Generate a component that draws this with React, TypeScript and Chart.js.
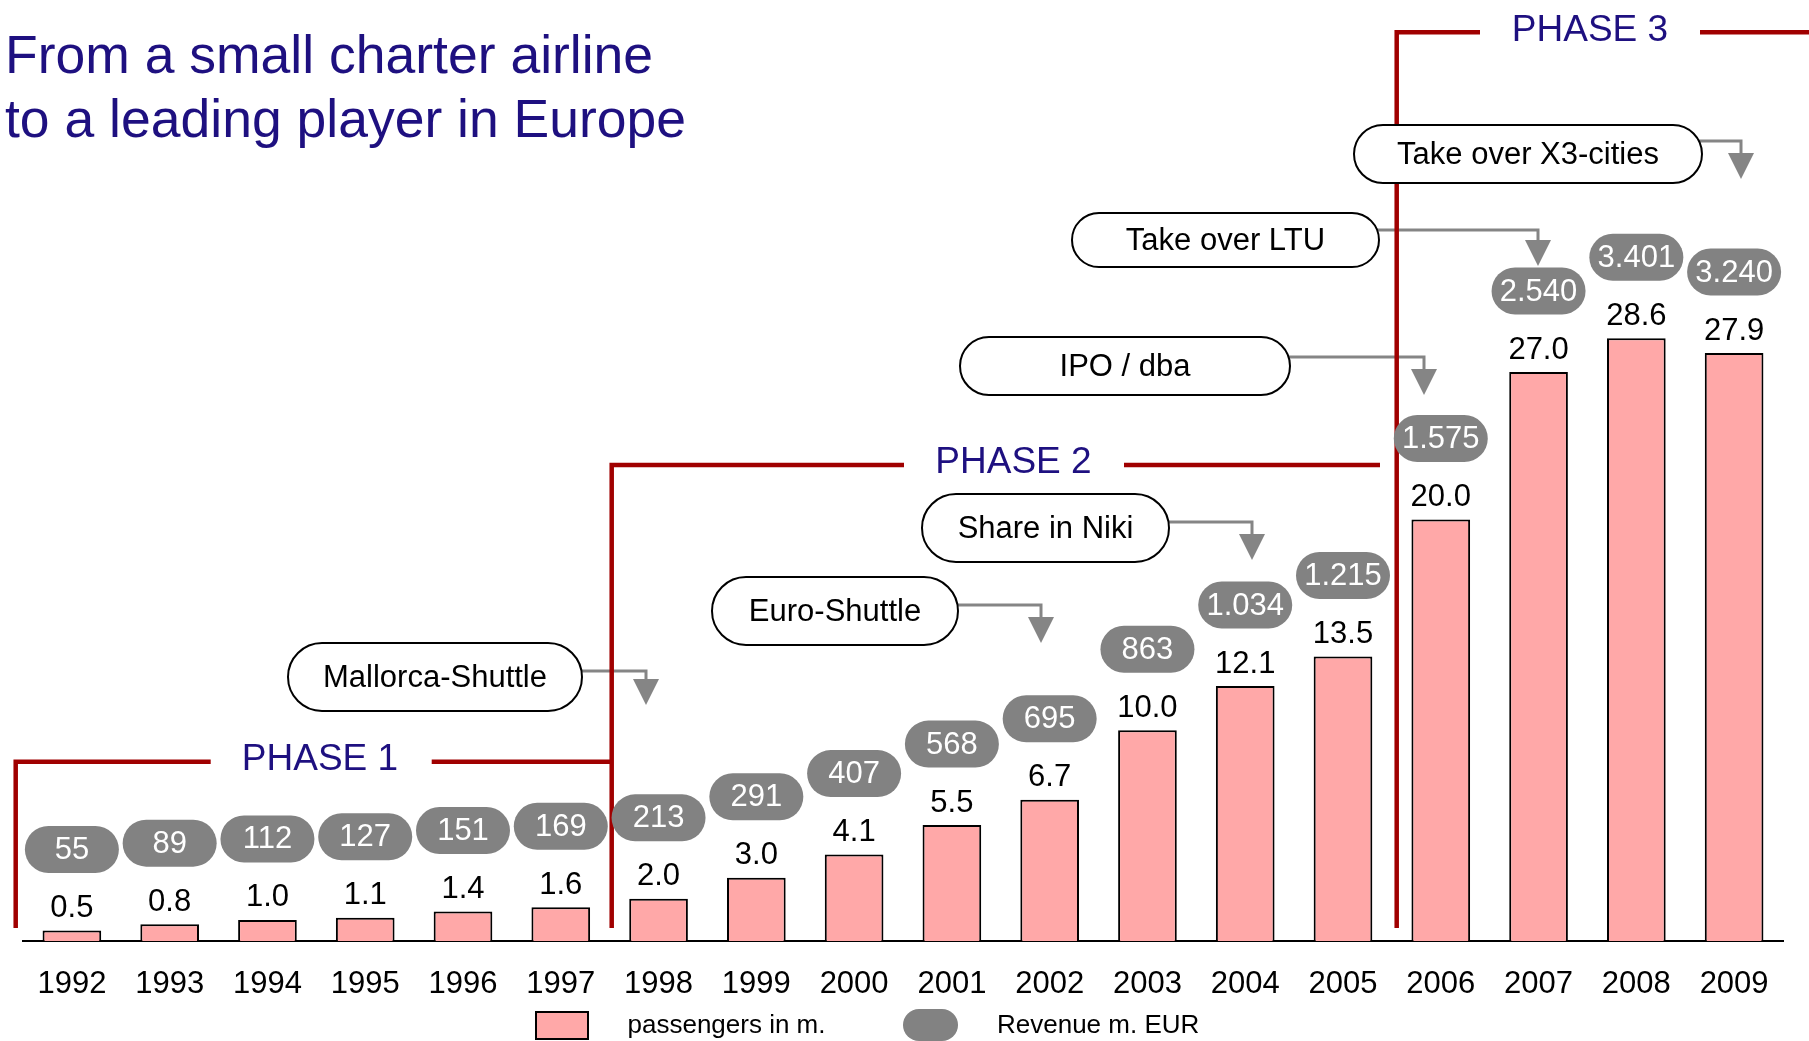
import React, { useEffect, useRef } from 'react';
import { Chart, registerables } from 'chart.js';

Chart.register(...registerables);

// ---------- data ----------
const years = ['1992', '1993', '1994', '1995', '1996', '1997', '1998', '1999', '2000', '2001', '2002', '2003', '2004', '2005', '2006', '2007', '2008', '2009'];
const passengers = [0.5, 0.8, 1.0, 1.1, 1.4, 1.6, 2.0, 3.0, 4.1, 5.5, 6.7, 10.0, 12.1, 13.5, 20.0, 27.0, 28.6, 27.9];
const revenue = [55, 89, 112, 127, 151, 169, 213, 291, 407, 568, 695, 863, 1034, 1215, 1575, 2540, 3401, 3240];
const titleLines = ['From a small charter airline', 'to a leading player in Europe'];
const phaseLabels = ['PHASE 1', 'PHASE 2', 'PHASE 3'];
const eventLabels = ['Mallorca-Shuttle', 'Euro-Shuttle', 'Share in Niki', 'IPO / dba', 'Take over LTU', 'Take over X3-cities'];
const legendLabels = ['passengers in m.', 'Revenue m. EUR'];

// ---------- styles / layout ----------
const FONT = '"Liberation Sans", Arial, Helvetica, sans-serif';
const BAR_FILL = '#FFA8A8';
const PILL_GRAY = '#828282';
const PHASE_RED = '#A00000';
const INDIGO = '#1E1080';
const ARROW_GRAY = '#858585';

const phaseLayout = [
  { vx: 15.7, top: 761.7, l1: 210.7, tx: 320, r0: 431.7, r1: 611.7 },
  { vx: 611.7, top: 465, l1: 904, tx: 1013.5, r0: 1124, r1: 1380 },
  { vx: 1396.7, top: 32.3, l1: 1480, tx: 1590, r0: 1700, r1: 1809 },
];
const PHASE_BOTTOM = 928;

const calloutLayout = [
  { x0: 288, x1: 582, y0: 643, y1: 711, ay: 671, ax: 646, tip: 705 },
  { x0: 712, x1: 958, y0: 577, y1: 645, ay: 605, ax: 1041, tip: 643 },
  { x0: 922, x1: 1169, y0: 494, y1: 562, ay: 522, ax: 1252, tip: 560 },
  { x0: 960, x1: 1290, y0: 337, y1: 395, ay: 357, ax: 1424, tip: 395 },
  { x0: 1072, x1: 1379, y0: 213, y1: 267, ay: 230, ax: 1538, tip: 266 },
  { x0: 1354, x1: 1702, y0: 125, y1: 183, ay: 141, ax: 1741, tip: 179 },
];

const fmtRevenue = (n: number) =>
  n >= 1000 ? `${Math.floor(n / 1000)}.${String(n % 1000).padStart(3, '0')}` : String(n);

function pillPath(ctx: CanvasRenderingContext2D, x: number, y: number, w: number, h: number) {
  const r = h / 2;
  ctx.beginPath();
  ctx.moveTo(x + r, y);
  ctx.lineTo(x + w - r, y);
  ctx.arc(x + w - r, y + r, r, -Math.PI / 2, Math.PI / 2);
  ctx.lineTo(x + r, y + h);
  ctx.arc(x + r, y + r, r, Math.PI / 2, Math.PI * 1.5);
  ctx.closePath();
}

const overlayPlugin = {
  id: 'overlay',
  afterDraw(chart: any) {
    const ctx: CanvasRenderingContext2D = chart.ctx;
    const meta = chart.getDatasetMeta(0);
    ctx.save();

    // arrows (under phase lines)
    ctx.strokeStyle = ARROW_GRAY;
    ctx.fillStyle = ARROW_GRAY;
    ctx.lineWidth = 3;
    calloutLayout.forEach((c) => {
      const triTop = c.tip - 26;
      ctx.beginPath();
      ctx.moveTo(c.x1 - 4, c.ay);
      ctx.lineTo(c.ax, c.ay);
      ctx.lineTo(c.ax, triTop + 1);
      ctx.stroke();
      ctx.beginPath();
      ctx.moveTo(c.ax - 13, triTop);
      ctx.lineTo(c.ax + 13, triTop);
      ctx.lineTo(c.ax, c.tip);
      ctx.closePath();
      ctx.fill();
    });

    // phase brackets
    ctx.strokeStyle = PHASE_RED;
    ctx.lineWidth = 4.5;
    ctx.lineCap = 'butt';
    ctx.lineJoin = 'miter';
    phaseLayout.forEach((p, i) => {
      ctx.beginPath();
      ctx.moveTo(p.vx, PHASE_BOTTOM);
      ctx.lineTo(p.vx, p.top);
      ctx.lineTo(p.l1, p.top);
      ctx.stroke();
      ctx.beginPath();
      ctx.moveTo(p.r0, p.top);
      ctx.lineTo(p.r1, p.top);
      ctx.stroke();
      ctx.fillStyle = INDIGO;
      ctx.font = `37px ${FONT}`;
      ctx.textAlign = 'center';
      ctx.textBaseline = 'middle';
      ctx.fillText(phaseLabels[i], p.tx, p.top - 2);
    });

    // event callouts
    ctx.lineWidth = 2;
    calloutLayout.forEach((c, i) => {
      pillPath(ctx, c.x0, c.y0, c.x1 - c.x0, c.y1 - c.y0);
      ctx.fillStyle = '#ffffff';
      ctx.fill();
      ctx.strokeStyle = '#000000';
      ctx.stroke();
      ctx.fillStyle = '#000000';
      ctx.font = `31px ${FONT}`;
      ctx.textAlign = 'center';
      ctx.textBaseline = 'middle';
      ctx.fillText(eventLabels[i], (c.x0 + c.x1) / 2, (c.y0 + c.y1) / 2 + 1);
    });

    // bar labels + revenue pills
    meta.data.forEach((bar: any, i: number) => {
      const x = bar.x;
      const y = bar.y;
      ctx.fillStyle = '#000000';
      ctx.font = `31px ${FONT}`;
      ctx.textAlign = 'center';
      ctx.textBaseline = 'middle';
      ctx.fillText(passengers[i].toFixed(1), x, y - 22);

      const pw = 94;
      const ph = 47;
      const cy = y - 81;
      pillPath(ctx, x - pw / 2, cy - ph / 2, pw, ph);
      ctx.fillStyle = PILL_GRAY;
      ctx.fill();
      ctx.fillStyle = '#ffffff';
      ctx.font = `31px ${FONT}`;
      ctx.fillText(fmtRevenue(revenue[i]), x, cy + 1);
    });

    // title
    ctx.fillStyle = INDIGO;
    ctx.font = `53.5px ${FONT}`;
    ctx.textAlign = 'left';
    ctx.textBaseline = 'alphabetic';
    ctx.fillText(titleLines[0], 5, 73);
    ctx.fillText(titleLines[1], 5, 137);

    // legend
    ctx.fillStyle = BAR_FILL;
    ctx.fillRect(536, 1012, 52, 27);
    ctx.strokeStyle = '#000000';
    ctx.lineWidth = 2;
    ctx.strokeRect(536, 1012, 52, 27);
    pillPath(ctx, 903, 1009, 55, 32);
    ctx.fillStyle = PILL_GRAY;
    ctx.fill();
    ctx.fillStyle = '#000000';
    ctx.font = `26px ${FONT}`;
    ctx.textAlign = 'left';
    ctx.textBaseline = 'middle';
    ctx.fillText(legendLabels[0], 627.5, 1026);
    ctx.fillText(legendLabels[1], 997, 1026);

    ctx.restore();
  },
};

export default function App() {
  const canvasRef = useRef<HTMLCanvasElement | null>(null);

  useEffect(() => {
    if (!canvasRef.current) return;
    const chart = new Chart(canvasRef.current, {
      type: 'bar',
      data: {
        labels: years,
        datasets: [
          {
            label: legendLabels[0],
            data: passengers,
            backgroundColor: BAR_FILL,
            borderColor: '#000000',
            borderWidth: 2,
            barPercentage: 0.6,
            categoryPercentage: 1,
          },
        ],
      },
      options: {
        responsive: false,
        animation: false,
        devicePixelRatio: 1,
        layout: { padding: { left: 23, right: 26, top: 98, bottom: 40 } },
        plugins: {
          legend: { display: false },
          tooltip: { enabled: false },
          title: { display: false },
        },
        scales: {
          x: {
            z: 1,
            grid: { display: false, drawTicks: false },
            border: { display: true, color: '#000000', width: 2 },
            ticks: {
              color: '#000000',
              font: { family: FONT, size: 31 },
              padding: 25,
              maxRotation: 0,
              autoSkip: false,
            },
            afterFit: (scale: any) => {
              scale.height = 60;
            },
          },
          y: { display: false, min: 0, max: 40 },
        },
      },
      plugins: [overlayPlugin],
    } as any);
    return () => chart.destroy();
  }, []);

  return (
    <div style={{ position: 'fixed', left: 0, top: 0, width: 1809, height: 1041, background: '#ffffff' }}>
      <canvas ref={canvasRef} width={1809} height={1041} style={{ display: 'block' }} />
    </div>
  );
}
